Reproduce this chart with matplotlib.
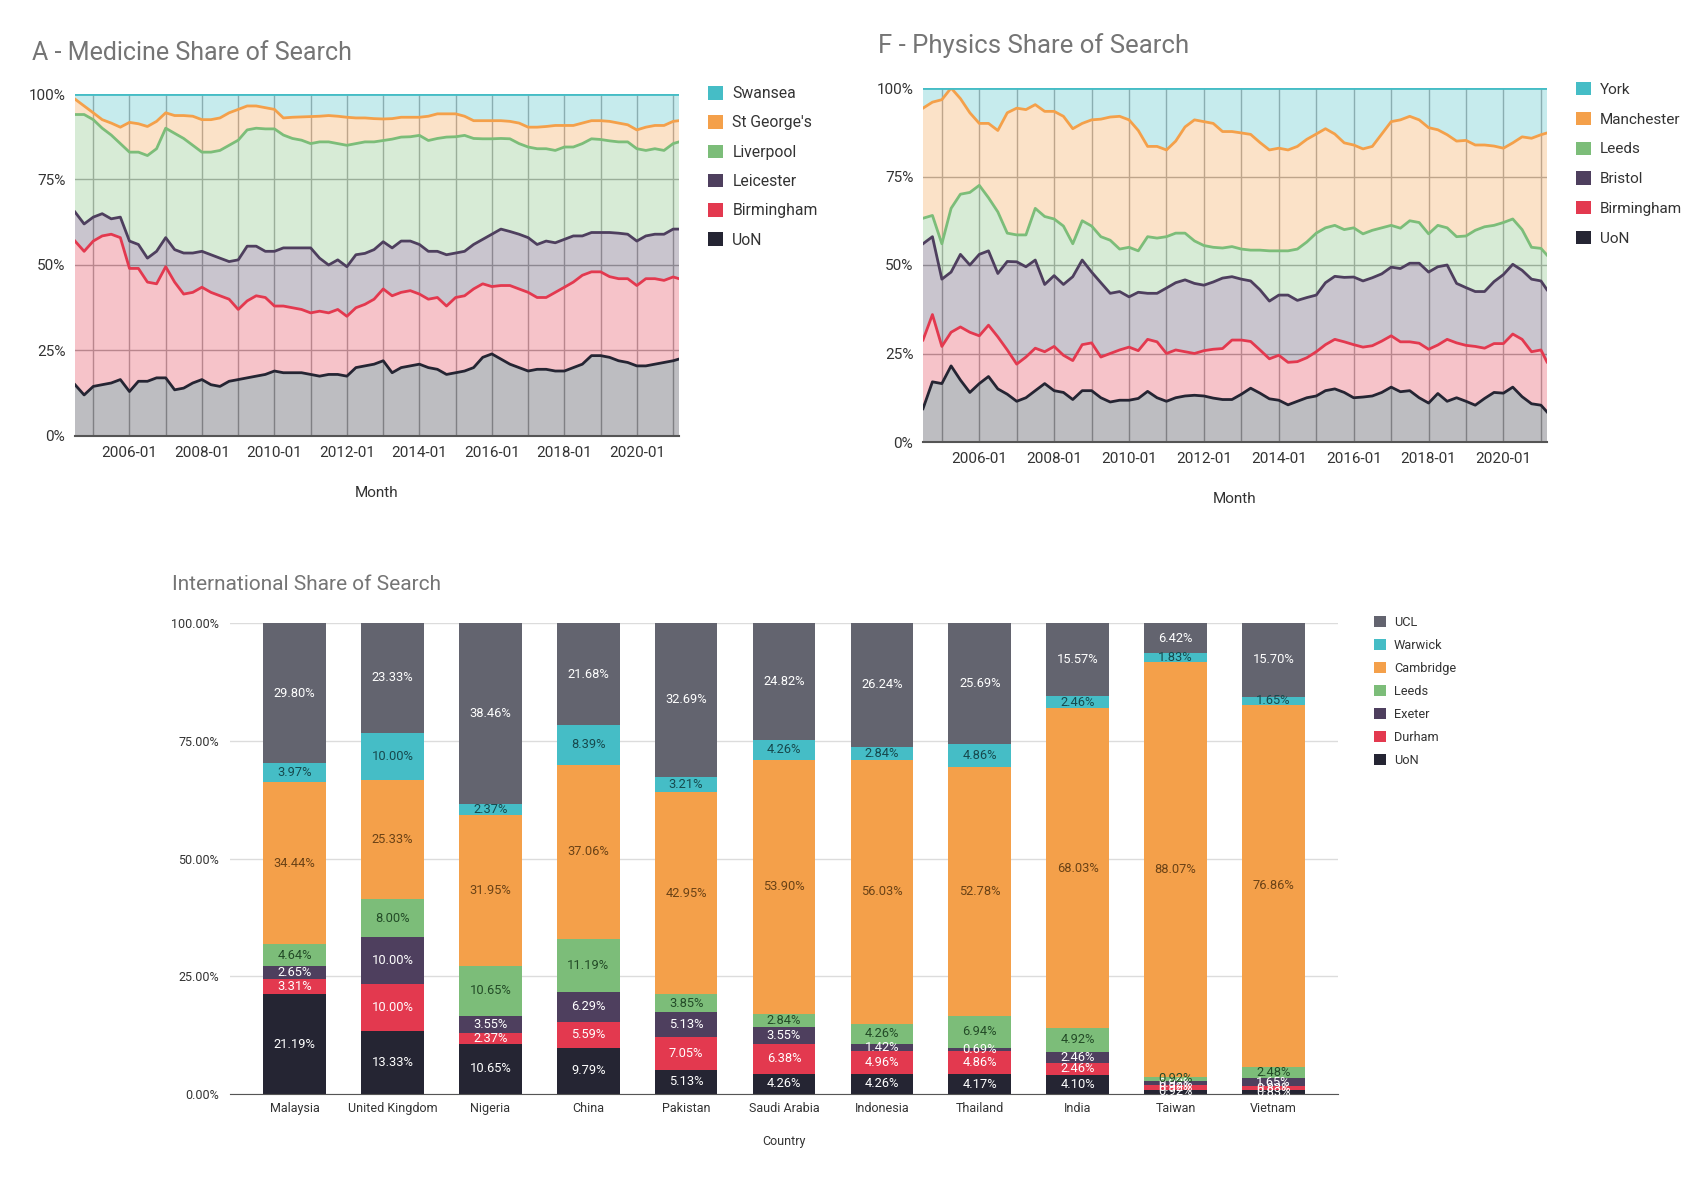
import numpy as np
import pandas as pd
import matplotlib
matplotlib.use("Agg")
import matplotlib.pyplot as plt
from matplotlib.patches import Patch
from matplotlib.ticker import FuncFormatter

plt.rcParams['font.family'] = ['Roboto', 'DejaVu Sans']

# ---------------------------------------------------------------
# Data (quarterly samples of monthly share)
# ---------------------------------------------------------------
months = list(pd.date_range('2004-07-01', '2021-01-01', freq='QS')) + [pd.Timestamp('2021-03-01')]

# A - Medicine (share of search, %)
med_uon = [15, 12, 14.5, 15, 15.5, 16.5, 13, 16, 16, 17,
           17, 13.5, 14, 15.5, 16.5, 15, 14.5, 16, 16.5, 17,
           17.5, 18, 19, 18.5, 18.5, 18.5, 18, 17.5, 18, 18,
           17.5, 20, 20.5, 21, 22, 18.5, 20, 20.5, 21, 20,
           19.5, 18, 18.5, 19, 20, 23, 24, 22.5, 21, 20,
           19, 19.5, 19.5, 19, 19, 20, 21, 23.5, 23.5, 23,
           22, 21.5, 20.5, 20.5, 21, 21.5, 22, 22.5]
med_birmingham = [42, 42, 42.5, 43.5, 43.5, 41.5, 36, 33, 29, 27.5,
                  32.5, 31.5, 27.5, 26.5, 27, 27, 26.5, 24, 20.5, 22.5,
                  23.5, 22.5, 19, 19.5, 19, 18.5, 18, 19, 18, 19,
                  17.5, 17.5, 18, 19, 21, 22.5, 22, 22, 20.5, 20,
                  21, 20, 22, 22, 23, 21.5, 19.7, 21.5, 23, 23,
                  23, 21, 21, 23, 24.5, 25, 26, 24.5, 24.5, 23.6,
                  24, 24.5, 23.5, 25.5, 25, 24, 24.5, 23.5]
med_leicester = [8.5, 8, 7, 6.5, 4.5, 6, 8, 7, 7, 9.5,
                 8.5, 9.5, 12, 11.5, 10.5, 11, 11, 11, 14.5, 16,
                 14.5, 13.5, 16, 17, 17.5, 18, 19, 15.5, 14, 14.5,
                 14.5, 15.5, 14.9, 14.5, 13.8, 14, 15, 14.5, 14.5, 14,
                 13.5, 15, 13, 13, 13, 13, 15.3, 16.5, 15.8, 16,
                 16, 15.5, 16.5, 14.5, 14, 13.5, 11.5, 11.5, 11.5, 12.9,
                 13.3, 13, 13, 12.5, 13, 13.5, 14, 14.5]
med_liverpool = [28.5, 32, 28.5, 25, 24.5, 21.5, 26, 27, 30, 30,
                 32, 34, 33.5, 31.5, 29, 30, 31.5, 34, 35, 34,
                 34.5, 35.8, 35.8, 33, 32, 31.5, 30.5, 34, 36, 34,
                 35.5, 32.5, 32.6, 31.5, 29.6, 31.8, 30.4, 30.5, 31.9, 32.4,
                 33, 34.4, 34, 33.9, 31, 29.4, 27.9, 26.5, 27.1, 26.5,
                 26.5, 28, 27, 27, 27, 26, 27, 27.4, 27.2, 26.8,
                 26.7, 27, 27, 25, 25, 24.5, 25, 25.5]
med_stgeorges = [4.5, 2.5, 2, 2.5, 3.5, 4.8, 8.7, 8.3, 8.5, 8,
                 4.5, 5.2, 6.7, 8.5, 9.5, 9.5, 9.5, 9.5, 9, 7,
                 6.5, 6.2, 5.7, 5, 6.2, 6.8, 7.9, 7.5, 7.7, 8,
                 8.2, 7.5, 7, 6.8, 6.3, 6, 5.8, 5.7, 5.3, 7.1,
                 7.2, 6.8, 6.7, 5.6, 5.2, 5.3, 5.3, 5.2, 5.1, 6,
                 5.8, 6.3, 6.5, 7.3, 6.3, 6.3, 6, 5.3, 5.5, 5.7,
                 5.5, 5, 5.5, 6.8, 6.8, 7.3, 6.5, 6.2]
med_swansea = [1.5, 3.5, 5.5, 7.5, 8.5, 9.7, 8.3, 8.7, 9.5, 8,
               5.5, 6.3, 6.3, 6.5, 7.5, 7.5, 7, 5.5, 4.5, 3.5,
               3.5, 4, 4.5, 7, 6.8, 6.7, 6.6, 6.5, 6.3, 6.5,
               6.8, 7, 7, 7.2, 7.3, 7.2, 6.8, 6.8, 6.8, 6.5,
               5.8, 5.8, 5.8, 6.5, 7.8, 7.8, 7.8, 7.8, 8, 8.5,
               9.7, 9.7, 9.5, 9.2, 9.2, 9.2, 8.5, 7.8, 7.8, 8,
               8.5, 9, 10.5, 9.7, 9.2, 9.2, 8, 7.8]
med_names = ['UoN', 'Birmingham', 'Leicester', 'Liverpool', "St George's", 'Swansea']

# F - Physics (share of search, %)
phy_uon = [9.4, 17, 16.5, 21.5, 17.5, 14, 16.5, 18.5, 15, 13.5,
           11.5, 12.5, 14.5, 16.5, 14.5, 14, 12, 14.5, 14.5, 12.5,
           11.3, 11.8, 11.8, 12.3, 14.3, 12.5, 11.5, 12.5, 13, 13.2,
           13, 12.4, 12, 12, 13.5, 15.2, 13.8, 12.2, 11.8, 10.5,
           11.5, 12.5, 13, 14.5, 15, 14, 12.5, 12.7, 13, 14,
           15.5, 14.2, 14.5, 12.5, 11, 13.7, 11.5, 12.5, 11.5, 10.4,
           12.3, 14, 13.8, 15.5, 12.8, 10.8, 10.4, 8.5]
phy_birmingham = [19.4, 19, 10.5, 9.5, 15, 17, 13.5, 14.5, 14.7, 12.5,
                  10.5, 11.5, 12, 9, 12.5, 10.5, 11, 13, 13.5, 11.5,
                  13.7, 14.2, 15, 13.5, 14.7, 15.8, 13.5, 13.5, 12.5, 11.8,
                  12.8, 13.8, 14.4, 16.8, 15.3, 13.2, 12.2, 11.3, 12.7, 12,
                  11.2, 11.3, 12.5, 13, 14, 14.3, 15, 14.1, 14.2, 14.5,
                  14.5, 14.1, 13.8, 15.4, 15.2, 13.7, 17.5, 15.5, 15.8, 16.6,
                  14.2, 13.8, 14, 15, 16.2, 14.7, 15.6, 14.1]
phy_bristol = [27.2, 22, 19, 17, 20.5, 19, 23, 21, 17.9, 25,
               28.9, 25.5, 24.9, 19, 20, 20, 23.7, 23.9, 20, 21,
               17, 16.5, 14.2, 16.5, 13, 13.7, 18.5, 19, 20.3, 19.8,
               18.5, 19, 19.9, 17.9, 17.2, 17.1, 17, 16.3, 17, 19,
               17.3, 17, 16, 17.5, 17.8, 18.2, 19.1, 18.7, 19.2, 19,
               19.4, 20.7, 22.2, 22.6, 21.8, 22.1, 21, 16.8, 16.3, 15.5,
               16, 17.5, 19.5, 19.7, 19.5, 20.5, 19.5, 20.4]
phy_leeds = [7.2, 6, 10, 18, 17, 20.5, 19.5, 15, 17.4, 8,
             7.6, 9, 14.6, 19.2, 16, 16.5, 9.3, 11.1, 13, 13,
             15, 12, 14, 11.7, 16, 15.6, 14.5, 14, 13.2, 12,
             11.2, 9.8, 8.5, 8.5, 8.5, 8.7, 11.2, 14.2, 12.5, 12.5,
             14.5, 15.7, 17.5, 15.5, 14.4, 13.5, 13.9, 13.3, 13.4, 13,
             11.8, 11.4, 12, 11.5, 10.8, 11.7, 10.5, 13.2, 14.6, 17.3,
             18.3, 15.9, 14.7, 12.8, 11.5, 9, 9.2, 9.8]
phy_manchester = [31.1, 32, 40.7, 34, 27, 22.5, 17.5, 21, 23, 34,
                  35.8, 35.4, 29.3, 29.7, 30.4, 31, 32.5, 27.5, 30, 33.2,
                  34.8, 37.5, 36, 34, 25.5, 25.9, 24.5, 26, 30, 34.2,
                  35, 35, 32.9, 32.5, 32.8, 32.7, 30.4, 28.5, 29, 28.5,
                  29, 29, 28, 28, 25.8, 24.5, 23.4, 24, 23.7, 26.5,
                  29.3, 30.6, 29.5, 29, 30, 27, 26.3, 27, 27, 24.1,
                  23.1, 22.4, 21, 21.5, 26.2, 30.8, 32.1, 34.5]
phy_york = [5.7, 4, 3.3, 0, 3, 7, 10, 10, 12, 7,
            5.7, 6.1, 4.7, 6.6, 6.6, 8, 11.5, 10, 9, 8.8,
            8.2, 8, 9, 12, 16.5, 16.5, 17.5, 15, 11, 9,
            9.5, 10, 12.3, 12.3, 12.7, 13.1, 15.4, 17.5, 17, 17.5,
            16.5, 14.5, 13, 11.5, 13, 15.5, 16.1, 17.2, 16.5, 13,
            9.5, 9, 8, 9, 11.2, 11.8, 13.2, 15, 14.8, 16.1,
            16.1, 16.4, 17, 15.5, 13.8, 14.2, 13.2, 12.7]
phy_names = ['UoN', 'Birmingham', 'Bristol', 'Leeds', 'Manchester', 'York']

# International share of search (%)
countries = ['Malaysia', 'United Kingdom', 'Nigeria', 'China', 'Pakistan', 'Saudi Arabia',
             'Indonesia', 'Thailand', 'India', 'Taiwan', 'Vietnam']
int_uon = [21.19, 13.33, 10.65, 9.79, 5.13, 4.26, 4.26, 4.17, 4.10, 0.92, 0.83]
int_durham = [3.31, 10.00, 2.37, 5.59, 7.05, 6.38, 4.96, 4.86, 2.46, 0.92, 0.83]
int_exeter = [2.65, 10.00, 3.55, 6.29, 5.13, 3.55, 1.42, 0.69, 2.46, 0.92, 1.65]
int_leeds = [4.64, 8.00, 10.65, 11.19, 3.85, 2.84, 4.26, 6.94, 4.92, 0.92, 2.48]
int_cambridge = [34.44, 25.33, 31.95, 37.06, 42.95, 53.90, 56.03, 52.78, 68.03, 88.07, 76.86]
int_warwick = [3.97, 10.00, 2.37, 8.39, 3.21, 4.26, 2.84, 4.86, 2.46, 1.83, 1.65]
int_ucl = [29.80, 23.33, 38.46, 21.68, 32.69, 24.82, 26.24, 25.69, 15.57, 6.42, 15.70]
int_names = ['UoN', 'Durham', 'Exeter', 'Leeds', 'Cambridge', 'Warwick', 'UCL']

# Colours (bottom -> top of the stack)
DARK, RED, PURPLE, GREEN, ORANGE, TEAL, GREY = ('#252533', '#e3394f', '#4e3f5e', '#7cbd79',
                                               '#f4a04a', '#45bdc6', '#63646f')
area_colors = [DARK, RED, PURPLE, GREEN, ORANGE, TEAL]
bar_colors = [DARK, RED, PURPLE, GREEN, ORANGE, TEAL, GREY]
bar_text_colors = ['white', 'white', 'white', '#234b27', '#6a4216', '#17494d', 'white']

TITLE_GREY = '#757575'
TEXT = '#333333'
W, H = 1690, 1178


def fig_box(x0, y0, x1, y1):
    """Pixel box (top-left origin) -> figure fraction rect."""
    return [x0 / W, 1 - y1 / H, (x1 - x0) / W, (y1 - y0) / H]


def draw_share_area(ax, series, colors):
    ax.stackplot(months, *series, colors=colors, alpha=0.3, linewidth=0, zorder=2)
    tops = np.cumsum(np.array(series), axis=0)
    for top, c in zip(tops, colors):
        ax.plot(months, top, color=c, lw=2, zorder=3, solid_joinstyle='round')

    ax.set_xlim(months[0], months[-1])
    ax.set_ylim(0, 100)
    ax.set_yticks([0, 25, 50, 75, 100])
    ax.yaxis.set_major_formatter(FuncFormatter(lambda v, p: f'{v:.0f}%'))

    major = pd.date_range('2006-01-01', '2020-01-01', freq='2YS')
    minor = pd.date_range('2005-01-01', '2021-01-01', freq='YS')
    ax.set_xticks(major)
    ax.set_xticklabels([d.strftime('%Y-%m') for d in major])
    ax.set_xticks(minor, minor=True)

    ax.set_axisbelow(True)
    ax.grid(which='both', axis='x', color='#a8a8a8', lw=1)
    ax.grid(which='major', axis='y', color='#a8a8a8', lw=1)
    ax.tick_params(which='both', length=0, labelsize=11, colors=TEXT)
    ax.tick_params(axis='x', pad=7)
    ax.tick_params(axis='y', pad=7)
    for s in ['left', 'right', 'top']:
        ax.spines[s].set_visible(False)
    ax.spines['bottom'].set_color('#555555')
    ax.spines['bottom'].set_linewidth(1.5)
    ax.set_xlabel('Month', fontsize=11, color=TEXT, labelpad=19)


def add_legend(ax, names, colors, x, y, fontsize, spacing):
    handles = [Patch(facecolor=c, edgecolor='none') for c in colors]
    ax.legend(handles[::-1], names[::-1], loc='upper left', bbox_to_anchor=(x / W, 1 - y / H),
              bbox_transform=ax.figure.transFigure, frameon=False, fontsize=fontsize,
              handlelength=0.95, handleheight=0.95, handletextpad=0.6, labelspacing=spacing,
              borderpad=0, borderaxespad=0, labelcolor=TEXT)


fig = plt.figure(figsize=(W / 100, H / 100), dpi=100)

# --- A - Medicine ---
ax_a = fig.add_axes(fig_box(75, 94, 679, 436))
draw_share_area(ax_a, [med_uon, med_birmingham, med_leicester, med_liverpool,
                       med_stgeorges, med_swansea], area_colors)
add_legend(ax_a, med_names, area_colors, 708, 86, 11.3, 0.9)
fig.text(32 / W, 1 - 53 / H, 'A - Medicine Share of Search', fontsize=18,
         color=TITLE_GREY, va='center', ha='left')

# --- F - Physics ---
ax_f = fig.add_axes(fig_box(923, 88, 1547, 442))
draw_share_area(ax_f, [phy_uon, phy_birmingham, phy_bristol, phy_leeds,
                       phy_manchester, phy_york], area_colors)
add_legend(ax_f, phy_names, area_colors, 1576, 82, 11.0, 0.98)
fig.text(878 / W, 1 - 46 / H, 'F - Physics Share of Search', fontsize=18.5,
         color=TITLE_GREY, va='center', ha='left')

# --- International bar chart ---
ax_b = fig.add_axes(fig_box(230, 623, 1338, 1094))
x = np.arange(len(countries))
bottom = np.zeros(len(countries))
stack = [int_uon, int_durham, int_exeter, int_leeds, int_cambridge, int_warwick, int_ucl]
for vals, c, tc in zip(stack, bar_colors, bar_text_colors):
    bars = ax_b.bar(x, vals, width=0.64, bottom=bottom, color=c, zorder=2)
    ax_b.bar_label(bars, labels=[f'{v:.2f}%' for v in vals], label_type='center',
                   color=tc, fontsize=9.3)
    bottom += np.array(vals)

ax_b.set_xlim(-0.66, 10.66)
ax_b.set_ylim(0, 100)
ax_b.set_xticks(x)
ax_b.set_xticklabels(countries)
ax_b.set_yticks([0, 25, 50, 75, 100])
ax_b.yaxis.set_major_formatter(FuncFormatter(lambda v, p: f'{v:.2f}%'))
ax_b.set_axisbelow(True)
ax_b.grid(axis='y', color='#dcdcdc', lw=1)
ax_b.tick_params(length=0, labelsize=9, colors=TEXT)
ax_b.tick_params(axis='x', pad=6)
ax_b.tick_params(axis='y', pad=8)
for s in ['left', 'right', 'top']:
    ax_b.spines[s].set_visible(False)
ax_b.spines['bottom'].set_color('#555555')
ax_b.set_xlabel('Country', fontsize=9, color=TEXT, labelpad=14)
add_legend(ax_b, int_names, bar_colors, 1374, 616, 9.2, 0.78)
fig.text(172 / W, 1 - 585 / H, 'International Share of Search', fontsize=15,
         color=TITLE_GREY, va='center', ha='left')

fig.savefig('out.png', dpi=100)
